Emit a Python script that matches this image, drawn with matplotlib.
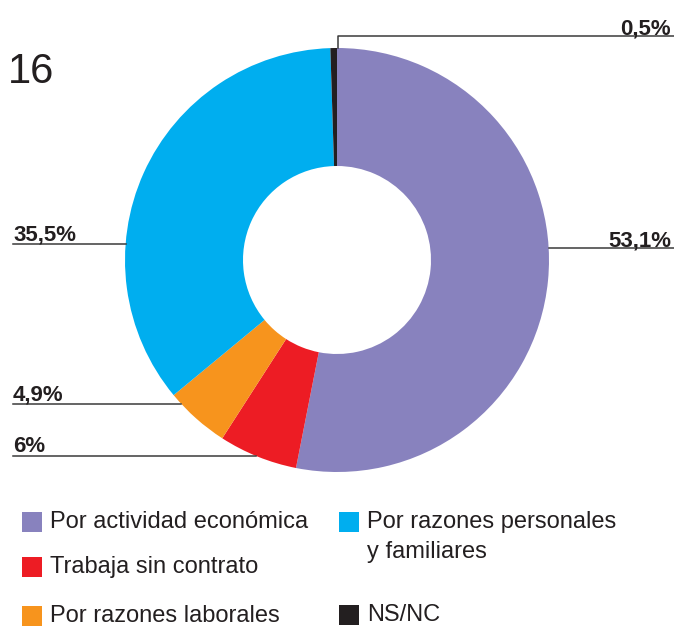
import matplotlib.pyplot as plt
from matplotlib.patches import Rectangle
import numpy as np

# datos (orden horario desde arriba)
categories = ["Por actividad económica", "Trabaja sin contrato", "Por razones laborales",
              "Por razones personales\ny familiares", "NS/NC"]
values = [53.1, 6, 4.9, 35.5, 0.5]
colors = ["#8882BE", "#ED1C24", "#F7941D", "#00AEEF", "#231F20"]
chart_number = "16"

W, H = 674, 626
TXT = "#231F20"
LINE = "#3A3A3A"
plt.rcParams['font.family'] = ['Liberation Sans', 'DejaVu Sans']


def Y(py):
    # coordenadas de pixel (desde arriba) -> datos
    return H - py


def fmt(v):
    return f"{v:g}".replace(".", ",") + "%"


fig = plt.figure(figsize=(W / 100, H / 100), dpi=100)
ax = fig.add_axes([0, 0, 1, 1])

cx, cy, r, ring = 337, 260, 212, 118
ax.pie(values, colors=colors, startangle=90, counterclock=False,
       center=(cx, Y(cy)), radius=r,
       wedgeprops=dict(width=ring, linewidth=0))
ax.set_xlim(0, W)
ax.set_ylim(0, H)
ax.set_aspect("equal")
ax.axis("off")


def edge_x(py, side):
    dy = py - cy
    return cx + side * np.sqrt(r ** 2 - dy ** 2)


fs = 16
# 53,1%
ly = 248
ax.plot([edge_x(ly, 1), W], [Y(ly), Y(ly)], color=LINE, lw=1.1)
ax.text(671, Y(ly + 4), fmt(values[0]), ha="right", va="bottom", fontsize=fs,
        fontweight="bold", color=TXT)
# 35,5%
ly = 244
ax.plot([13, edge_x(ly, -1)], [Y(ly), Y(ly)], color=LINE, lw=1.1)
ax.text(13, Y(ly + 1), fmt(values[3]), ha="left", va="bottom", fontsize=fs,
        fontweight="bold", color=TXT)
# 4,9%
ly = 404
ax.plot([13, edge_x(ly, -1)], [Y(ly), Y(ly)], color=LINE, lw=1.1)
ax.text(13, Y(ly + 1), fmt(values[2]), ha="left", va="bottom", fontsize=fs,
        fontweight="bold", color=TXT)
# 6%
ly = 456
ax.plot([13, edge_x(ly, -1)], [Y(ly), Y(ly)], color=LINE, lw=1.1)
ax.text(13, Y(ly + 1), fmt(values[1]), ha="left", va="bottom", fontsize=fs,
        fontweight="bold", color=TXT)
# 0,5%
ly = 36
ax.plot([cx + 1, cx + 1, W], [Y(cy - r), Y(ly), Y(ly)], color=LINE, lw=1.1)
ax.text(671, Y(ly + 3), fmt(values[4]), ha="right", va="bottom", fontsize=fs,
        fontweight="bold", color=TXT)

# numero del grafico
ax.text(8, Y(72), chart_number, ha="left", va="center", fontsize=30, color=TXT)

# leyenda manual
leg_pos = [(22, 512), (22, 557), (22, 606), (339, 512), (339, 605)]
for (lx, lyy), lab, col in zip(leg_pos, categories, colors):
    ax.add_patch(Rectangle((lx, Y(lyy + 20)), 20, 20, color=col, lw=0))
    ax.text(lx + 28, Y(lyy - 1), lab, ha="left", va="top", fontsize=17,
            color=TXT, linespacing=1.45)

fig.savefig("out.png", dpi=100)
